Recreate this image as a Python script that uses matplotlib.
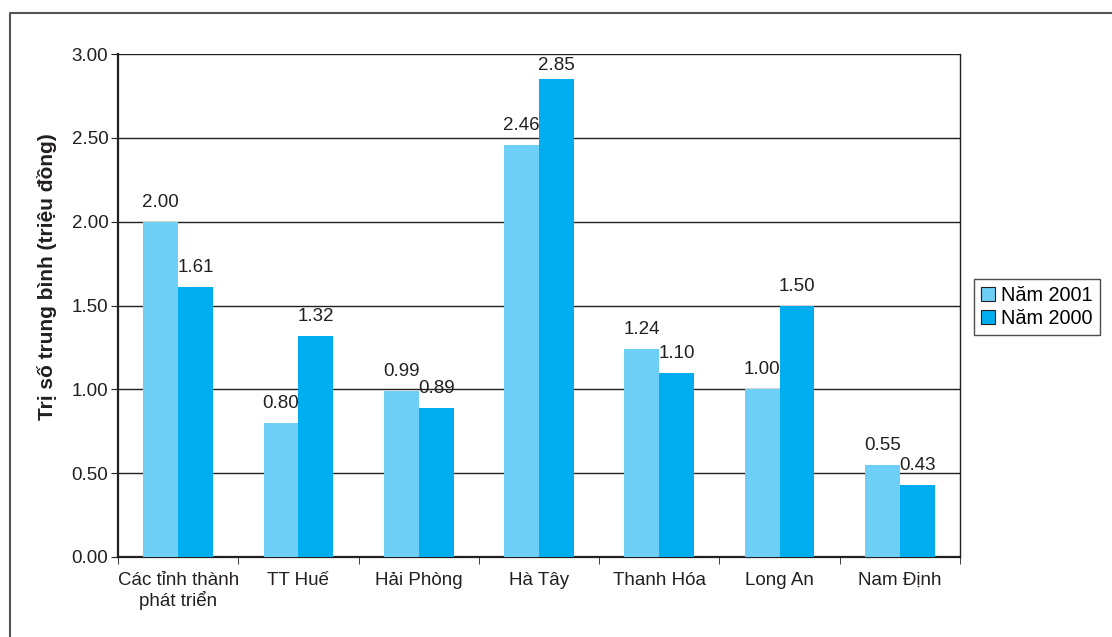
import numpy as np
import matplotlib
matplotlib.use("Agg")
import matplotlib.pyplot as plt
from matplotlib.lines import Line2D
from matplotlib.patches import Patch

plt.rcParams["font.family"] = ["Liberation Sans", "DejaVu Sans"]

# ------------------------------------------
# Data
# ------------------------------------------
provinces = ["Các tỉnh thành\nphát triển", "TT Huế", "Hải Phòng", "Hà Tây",
             "Thanh Hóa", "Long An", "Nam Định"]
values_2001 = [2.00, 0.80, 0.99, 2.46, 1.24, 1.00, 0.55]
values_2000 = [1.61, 1.32, 0.89, 2.85, 1.10, 1.50, 0.43]
series_names = ["Năm 2001", "Năm 2000"]

light_blue = "#6dcff6"
dark_blue = "#00aeef"
ink = "#231f20"
fs = 13.5
y_max = 3.0

# ------------------------------------------
# Figure
# ------------------------------------------
fig = plt.figure(figsize=(11.12, 6.37), dpi=100)
ax = fig.add_axes([0.1061, 0.1256, 0.7572, 0.7896])

x = np.arange(len(provinces))
w = 0.29

bars1 = ax.bar(x - w / 2, values_2001, w, color=light_blue, zorder=3)
bars2 = ax.bar(x + w / 2, values_2000, w, color=dark_blue, zorder=3)

# value labels above bars, kept inside the plot area
px_per_unit = 503 / y_max
for bars, vals in [(bars1, values_2001), (bars2, values_2000)]:
    for b, v in zip(bars, vals):
        room_px = (y_max - v) * px_per_unit
        off_px = min(11, room_px - 20)
        ax.annotate(f"{v:.2f}", (b.get_x() + b.get_width() / 2, v),
                    xytext=(0, off_px * 0.72), textcoords="offset points",
                    ha="center", va="bottom", fontsize=fs, color=ink)

ax.set_xlim(-0.5, len(provinces) - 0.5)
ax.set_ylim(0, y_max)
yt = np.arange(0, y_max + 0.01, 0.5)
ax.set_yticks(yt)
ax.set_yticklabels([f"{t:.2f}" for t in yt], fontsize=fs, color=ink)
ax.yaxis.grid(True, color=ink, linewidth=1.0, zorder=0)

# category labels centered, ticks at category boundaries
ax.set_xticks(x)
ax.set_xticklabels(provinces, fontsize=fs, color=ink, linespacing=1.1)
ax.tick_params(axis="x", length=0, pad=11)
ax.set_xticks(np.arange(-0.5, len(provinces)), minor=True)
ax.tick_params(axis="x", which="minor", length=5, direction="out", color=ink)
ax.tick_params(axis="y", length=5, direction="out", color=ink, pad=2)

for side in ["left", "bottom"]:
    ax.spines[side].set_color(ink)
    ax.spines[side].set_linewidth(1.6)
ax.spines["top"].set_visible(False)
ax.spines["right"].set_color(ink)
ax.spines["right"].set_linewidth(1.0)

ax.set_ylabel("Trị số trung bình (triệu đồng)", fontsize=15,
              fontweight="bold", color=ink)
ax.yaxis.set_label_coords(-0.073, 0.557)

handles = [Patch(facecolor=light_blue, edgecolor=ink, linewidth=0.8),
           Patch(facecolor=dark_blue, edgecolor=ink, linewidth=0.8)]
leg = fig.legend(handles, series_names, loc="center left",
                 bbox_to_anchor=(0.876, 0.518), fontsize=14.3,
                 frameon=True, fancybox=False, handlelength=0.72,
                 handleheight=0.72, handletextpad=0.3, borderpad=0.35,
                 labelspacing=0.2, borderaxespad=0)
leg.get_frame().set_edgecolor(ink)
leg.get_frame().set_linewidth(1.0)

# outer frame lines (left and top)
fig.add_artist(Line2D([10 / 1112, 10 / 1112, 1.0], [0.0, 1 - 13 / 637, 1 - 13 / 637],
                      transform=fig.transFigure, color="#555555", linewidth=1.5))

fig.savefig("out.png", dpi=100)
